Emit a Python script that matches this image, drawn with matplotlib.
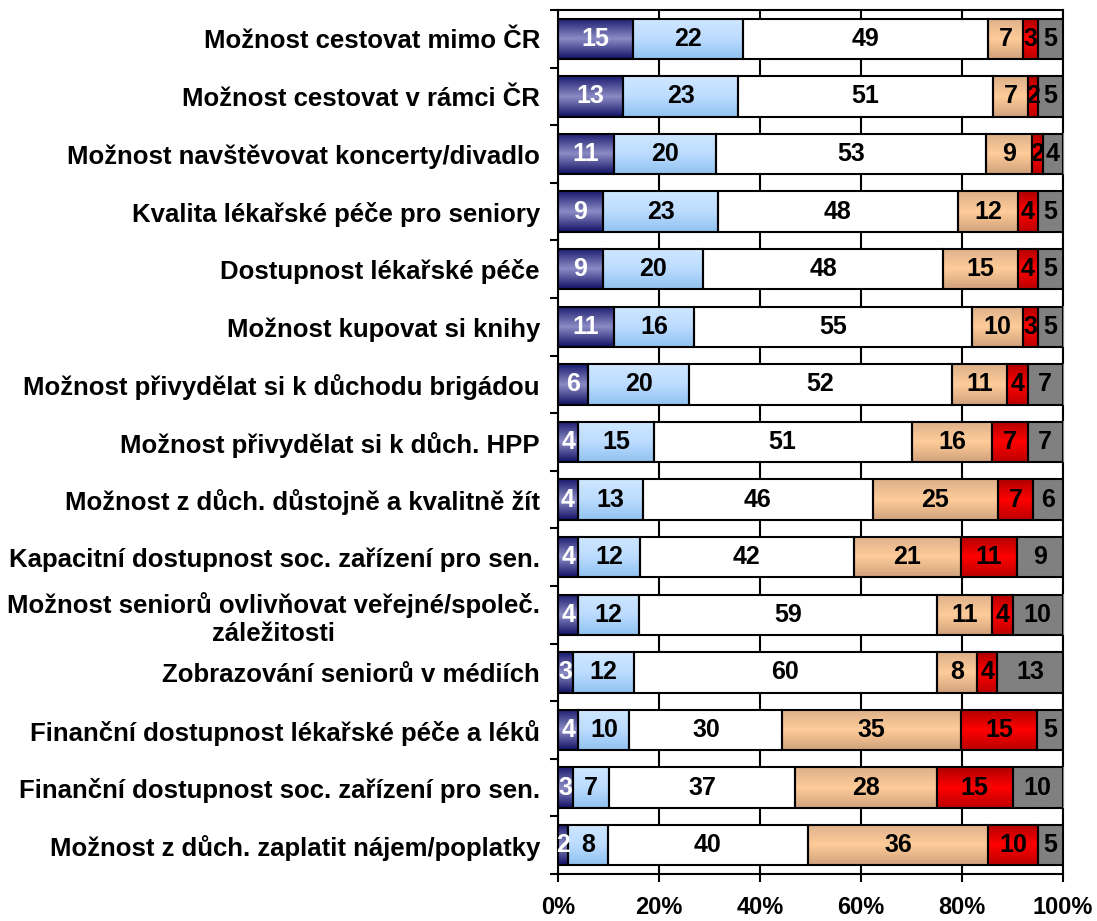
import numpy as np
import matplotlib
matplotlib.use("Agg")
import matplotlib.pyplot as plt
from matplotlib.colors import LinearSegmentedColormap

plt.rcParams['font.family'] = ['Liberation Sans', 'DejaVu Sans']
plt.rcParams['font.weight'] = 'bold'

# --- data --------------------------------------------------------------------
categories = [
    "Možnost cestovat mimo ČR",
    "Možnost cestovat v rámci ČR",
    "Možnost navštěvovat koncerty/divadlo",
    "Kvalita lékařské péče pro seniory",
    "Dostupnost lékařské péče",
    "Možnost kupovat si knihy",
    "Možnost přivydělat si k důchodu brigádou",
    "Možnost přivydělat si k důch. HPP",
    "Možnost z důch. důstojně a kvalitně žít",
    "Kapacitní dostupnost soc. zařízení pro sen.",
    "Možnost seniorů ovlivňovat veřejné/společ.\nzáležitosti",
    "Zobrazování seniorů v médiích",
    "Finanční dostupnost lékařské péče a léků",
    "Finanční dostupnost soc. zařízení pro sen.",
    "Možnost z důch. zaplatit nájem/poplatky",
]
s1 = [15, 13, 11, 9, 9, 11, 6, 4, 4, 4, 4, 3, 4, 3, 2]
s2 = [22, 23, 20, 23, 20, 16, 20, 15, 13, 12, 12, 12, 10, 7, 8]
s3 = [49, 51, 53, 48, 48, 55, 52, 51, 46, 42, 59, 60, 30, 37, 40]
s4 = [7, 7, 9, 12, 15, 10, 11, 16, 25, 21, 11, 8, 35, 28, 36]
s5 = [3, 2, 2, 4, 4, 3, 4, 7, 7, 11, 4, 4, 15, 15, 10]
s6 = [5, 5, 4, 5, 5, 5, 7, 7, 6, 9, 10, 13, 5, 10, 5]
series = [s1, s2, s3, s4, s5, s6]
xticklabels = ["0%", "20%", "40%", "60%", "80%", "100%"]

# gradient stops (top, middle, bottom) per series
grads = [
    ("#1a1a6e", "#8c8cc6", "#121266"),
    ("#d0e7ff", "#bcdcff", "#90c2f0"),
    ("#ffffff", "#ffffff", "#ffffff"),
    ("#dcb08a", "#ffcc99", "#d0a27c"),
    ("#b00000", "#ff0000", "#bc0000"),
    ("#808080", "#808080", "#808080"),
]
text_colors = ["white", "black", "black", "black", "black", "black"]

# --- plot --------------------------------------------------------------------
fig = plt.figure(figsize=(10.97, 9.21), dpi=100)
ax = fig.add_axes([558/1097, 1 - 874/921, 505/1097, 864/921])

data = np.array(series, dtype=float)
pct = data / data.sum(axis=0) * 100
y = np.arange(len(categories))
grad = np.linspace(0, 1, 128).reshape(-1, 1)

left = np.zeros(len(categories))
for j in range(len(series)):
    bars = ax.barh(y, pct[j], left=left, height=0.7, facecolor="none",
                   edgecolor="black", linewidth=1.5, zorder=4)
    cmap = LinearSegmentedColormap.from_list("g%d" % j, grads[j])
    for i, p in enumerate(bars.patches):
        x0, y0 = p.get_x(), p.get_y()
        w, h = p.get_width(), p.get_height()
        ax.imshow(grad, cmap=cmap, aspect="auto", interpolation="bicubic",
                  extent=(x0, x0 + w, y0 + h, y0), zorder=3)
        ax.text(x0 + w / 2, y0 + h / 2, "%d" % series[j][i], ha="center",
                va="center", fontsize=18, fontweight="bold",
                color=text_colors[j], zorder=5)
    left += pct[j]

ax.set_xlim(0, 100)
ax.set_ylim(len(categories) - 0.5, -0.5)

ax.set_xticks(np.arange(0, 101, 20))
ax.set_xticklabels(xticklabels, fontsize=17, fontweight="bold")
ax.tick_params(axis="x", direction="out", length=6, width=1.5, pad=10)

ax.set_yticks(y)
ax.set_yticklabels(categories, fontsize=18.5, fontweight="bold")
ax.set_yticks(np.arange(len(categories) + 1) - 0.5, minor=True)
ax.tick_params(axis="y", which="major", length=0, pad=13)
ax.tick_params(axis="y", which="minor", direction="out", length=6, width=1.5)
for lbl in ax.get_yticklabels():
    lbl.set_multialignment("center")

ax.xaxis.grid(True, color="black", linewidth=1.5, zorder=1)
ax.set_axisbelow(True)
for sp in ax.spines.values():
    sp.set_linewidth(1.5)
    sp.set_color("black")

fig.savefig("out.png", dpi=100)
